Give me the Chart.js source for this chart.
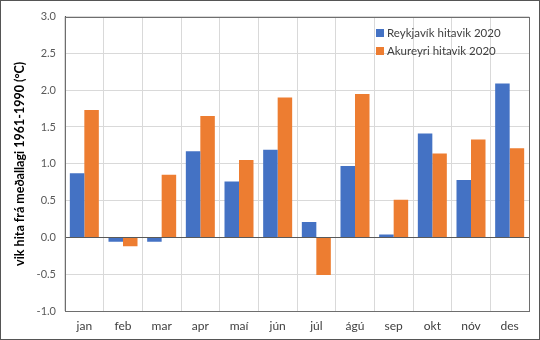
<!DOCTYPE html>
<html>
<head>
<meta charset="utf-8">
<script src="https://cdn.jsdelivr.net/npm/chart.js@4/dist/chart.umd.min.js"></script>
<style>
    html, body { margin: 0; padding: 0; background: #fff; }
    .box { width: 538px; height: 338px; border: 1px solid #555; position: relative; }
    canvas { display: block; }
</style>
</head>
<body>
<div class="box">
    <canvas id="chart" width="538" height="338"></canvas>
</div>
<script>
//月份
const months = ['jan', 'feb', 'mar', 'apr', 'maí', 'jún', 'júl', 'ágú', 'sep', 'okt', 'nóv', 'des']
//Reykjavík
const reykjavik = [0.87, -0.06, -0.06, 1.17, 0.76, 1.19, 0.21, 0.97, 0.04, 1.41, 0.78, 2.09]
//Akureyri
const akureyri = [1.73, -0.12, 0.85, 1.65, 1.05, 1.90, -0.51, 1.95, 0.51, 1.14, 1.33, 1.21]
const seriesNames = ['Reykjavík hitavik 2020', 'Akureyri hitavik 2020']
const yTitle = 'vik hita frá meðallagi 1961-1990 (°C)'

const FONT = 'Lato, "Open Sans", sans-serif'

//图例画在图表里面右上角
const innerLegend = {
    id: 'innerLegend',
    afterDraw(chart) {
        const ctx = chart.ctx
        ctx.save()
        ctx.font = `11.5px ${FONT}`
        ctx.textBaseline = 'middle'
        chart.data.datasets.forEach((ds, i) => {
            const y = 32 + i * 18
            ctx.fillStyle = ds.backgroundColor
            ctx.fillRect(375, y - 4, 8, 8)
            ctx.fillStyle = '#404040'
            ctx.fillText(ds.label, 386, y)
        })
        ctx.restore()
    }
}

//外框
const frame = {
    id: 'frame',
    afterDatasetsDraw(chart) {
        const a = chart.chartArea
        const ctx = chart.ctx
        ctx.save()
        ctx.strokeStyle = '#6e6e6e'
        ctx.lineWidth = 1
        ctx.strokeRect(Math.round(a.left) + 0.5, Math.round(a.top) + 0.5, Math.round(a.right - a.left), Math.round(a.bottom - a.top))
        ctx.restore()
    }
}

const config = {
    type: 'bar',
    data: {
        labels: months,
        datasets: [
            {
                label: seriesNames[0],
                data: reykjavik,
                backgroundColor: '#4472C4',
                categoryPercentage: 0.75,
                barPercentage: 1.0
            },
            {
                label: seriesNames[1],
                data: akureyri,
                backgroundColor: '#ED7D31',
                categoryPercentage: 0.75,
                barPercentage: 1.0
            }
        ]
    },
    options: {
        animation: false,
        responsive: false,
        layout: {
            padding: { top: 12, right: 10, bottom: 0, left: 0 }
        },
        plugins: {
            legend: { display: false },
            tooltip: { enabled: false }
        },
        scales: {
            x: {
                grid: {
                    offset: true,
                    color: '#d9d9d9',
                    drawTicks: false
                },
                border: { color: '#595959' },
                ticks: {
                    color: '#404040',
                    font: { family: FONT, size: 12 },
                    padding: 8
                },
                afterFit(scale) { scale.height = 28 }
            },
            y: {
                min: -1,
                max: 3,
                ticks: {
                    stepSize: 0.5,
                    color: '#595959',
                    font: { family: FONT, size: 11 },
                    padding: 9,
                    callback: (v) => v.toFixed(1)
                },
                grid: {
                    color: (ctx) => ctx.tick && ctx.tick.value === 0 ? '#595959' : '#d9d9d9',
                    drawTicks: false
                },
                border: { color: '#595959' },
                title: {
                    display: true,
                    text: yTitle,
                    color: '#000',
                    font: { family: FONT, size: 12.5, weight: 'bold' },
                    padding: { top: 11, bottom: 0 }
                },
                afterFit(scale) { scale.width = 64 }
            }
        }
    },
    plugins: [frame, innerLegend]
}

new Chart(document.getElementById('chart'), config)
</script>
</body>
</html>
